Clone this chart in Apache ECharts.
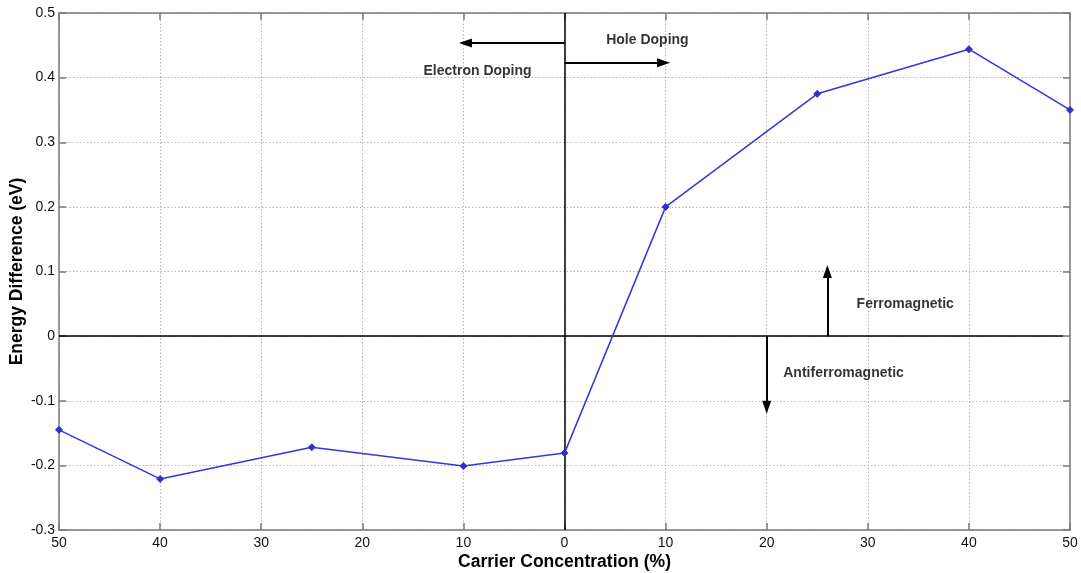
<!DOCTYPE html>
<html>
<head>
<meta charset="utf-8">
<script src="https://cdn.jsdelivr.net/npm/echarts@6/dist/echarts.min.js"></script>
<style>
  html, body { margin: 0; padding: 0; background: #fff; }
  #chart { width: 1081px; height: 573px; }
</style>
</head>
<body>
<div id="chart"></div>
<script>
// Carrier concentration: negative = electron doping, positive = hole doping (%)
const concentration = [-50, -40, -25, -10, 0, 10, 25, 40, 50];
// Energy difference E(AFM) - E(FM), eV
const energyDiff = [-0.145, -0.221, -0.172, -0.201, -0.181, 0.200, 0.375, 0.444, 0.350];

// Annotation arrows: [x0, y0, x1, y1] in data units
const dopingArrows = [
  [0, 0.4535, -9.8, 0.4535],
  [0, 0.423, 9.8, 0.423]
];
const magArrows = [
  [26, 0, 26, 0.1],
  [20, 0, 20, -0.11]
];
// Annotation labels: [x, y, text]
const annotations = [
  [8.2, 0.458, 'Hole Doping'],
  [-8.6, 0.41, 'Electron Doping'],
  [33.7, 0.05, 'Ferromagnetic'],
  [27.6, -0.057, 'Antiferromagnetic']
];

const FONT = 'Liberation Sans, Arial, sans-serif';
const chart = echarts.init(document.getElementById('chart'));

const axisLine = { show: true, onZero: false, lineStyle: { color: '#7a7a7a', width: 1.5 } };
const gridLine = { show: true, lineStyle: { color: '#b5b5b5', type: [1.5, 2], width: 1 } };
const ticks = { show: true, inside: true, length: 7, lineStyle: { color: '#7a7a7a', width: 1.5 } };

function arrowLines(list) {
  return list.map(a => [
    { coord: [a[0], a[1]] },
    { coord: [a[2], a[3]] }
  ]);
}

chart.setOption({
  animation: false,
  backgroundColor: '#fff',
  grid: { left: 59, right: 11, top: 13, bottom: 43, containLabel: false, outerBoundsMode: 'none' },
  xAxis: [{
    type: 'value', min: -50, max: 50, interval: 10,
    name: 'Carrier Concentration (%)', nameLocation: 'middle', nameGap: 23,
    nameMoveOverlap: false,
    nameTextStyle: { fontFamily: FONT, fontSize: 17.5, fontWeight: 'bold', color: '#000' },
    axisLine: axisLine, axisTick: ticks, splitLine: gridLine,
    axisLabel: { fontFamily: FONT, fontSize: 14, color: '#111', margin: 6,
      formatter: v => String(Math.abs(v)) }
  }, {
    type: 'value', min: -50, max: 50, interval: 10, position: 'top',
    axisLine: axisLine, axisTick: ticks, splitLine: { show: false },
    axisLabel: { show: false }
  }],
  yAxis: [{
    type: 'value', min: -0.3, max: 0.5, interval: 0.1,
    name: 'Energy Difference (eV)', nameLocation: 'middle', nameGap: 33,
    nameMoveOverlap: false,
    nameTextStyle: { fontFamily: FONT, fontSize: 17.5, fontWeight: 'bold', color: '#000' },
    axisLine: axisLine, axisTick: ticks, splitLine: gridLine,
    axisLabel: { fontFamily: FONT, fontSize: 14, color: '#111', margin: 4,
      formatter: v => (Math.abs(v) < 1e-9 ? '0' : String(Math.round(v * 10) / 10)) }
  }, {
    type: 'value', min: -0.3, max: 0.5, interval: 0.1, position: 'right',
    axisLine: axisLine, axisTick: ticks, splitLine: { show: false },
    axisLabel: { show: false }
  }],
  series: [
    {
      type: 'line',
      data: concentration.map((x, i) => [x, energyDiff[i]]),
      symbol: 'diamond', symbolSize: 7, showSymbol: true,
      lineStyle: { color: '#3636d6', width: 1.5 },
      itemStyle: { color: '#3030c8', borderColor: '#3030c8' },
      z: 5,
      markLine: {
        silent: true, symbol: ['none', 'none'], label: { show: false },
        lineStyle: { color: '#000', width: 1.5, type: 'solid' },
        data: [
          [{ coord: [-50, 0] }, { coord: [49.3, 0] }],
          [{ coord: [0, -0.3] }, { coord: [0, 0.5] }]
        ]
      }
    },
    {
      type: 'line', data: [], z: 6,
      markLine: {
        silent: true, symbol: ['none', 'triangle'], symbolSize: [9, 13],
        label: { show: false },
        lineStyle: { color: '#000', width: 2, type: 'solid' },
        data: arrowLines(dopingArrows).concat(arrowLines(magArrows))
      }
    },
    {
      type: 'scatter', symbolSize: 0, z: 7,
      data: annotations.map(a => ({ value: [a[0], a[1]], name: a[2] })),
      label: {
        show: true, position: 'inside', formatter: p => p.name,
        fontFamily: FONT, fontSize: 14, fontWeight: 'bold', color: '#000'
      }
    }
  ]
});
</script>
</body>
</html>
